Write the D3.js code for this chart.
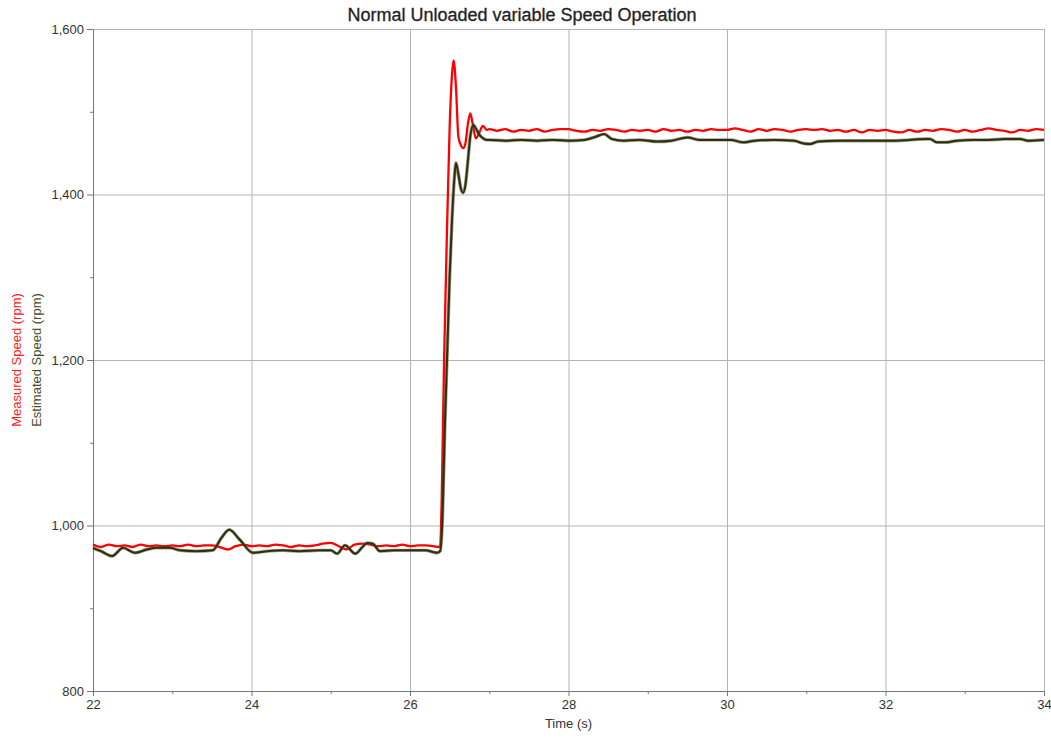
<!DOCTYPE html>
<html>
<head>
<meta charset="utf-8">
<script src="https://cdn.jsdelivr.net/npm/d3@7.9.0/dist/d3.min.js"></script>
<style>
  body { margin: 0; background: #fff; }
  svg { display: block; font-family: "Liberation Sans", Arial, sans-serif; }
  .grid line { stroke: #b4b4b4; stroke-width: 1; }
  .grid path { display: none; }
  .axis path, .axis line { stroke: #777; }
  .axis text { fill: #333; font-size: 13px; }
</style>
</head>
<body>
<div id="chart"></div>
<script>
// Measured speed (red)
const measuredTime = [
  22.0, 22.1, 22.2, 22.3, 22.4, 22.5, 22.6, 22.7, 22.8, 22.9,
  23.0, 23.1, 23.2, 23.3, 23.4, 23.5, 23.6, 23.7, 23.8, 23.9,
  24.0, 24.1, 24.2, 24.3, 24.4, 24.5, 24.6, 24.7, 24.8, 24.9,
  25.0, 25.1, 25.2, 25.3, 25.4, 25.5, 25.6, 25.7, 25.8, 25.9,
  26.0, 26.1, 26.2, 26.3, 26.36, 26.38, 26.40, 26.43, 26.47, 26.50,
  26.53, 26.55, 26.58, 26.61, 26.64, 26.67, 26.70, 26.73, 26.76, 26.79,
  26.83, 26.88, 26.92, 26.97, 27.0,
  27.1, 27.2, 27.3, 27.4, 27.5, 27.6, 27.7, 27.8, 27.9,
  28.0, 28.1, 28.2, 28.3, 28.4, 28.5, 28.6, 28.7, 28.8, 28.9,
  29.0, 29.1, 29.2, 29.3, 29.4, 29.5, 29.6, 29.7, 29.8, 29.9,
  30.0, 30.1, 30.2, 30.3, 30.4, 30.5, 30.6, 30.7, 30.8, 30.9,
  31.0, 31.1, 31.2, 31.3, 31.4, 31.5, 31.6, 31.7, 31.8, 31.9,
  32.0, 32.1, 32.2, 32.3, 32.4, 32.5, 32.6, 32.7, 32.8, 32.9,
  33.0, 33.1, 33.2, 33.3, 33.4, 33.5, 33.6, 33.7, 33.8, 33.9, 34.0
];
const measuredSpeed = [
  977, 974, 977, 975, 976, 974, 977, 975, 976, 975,
  976, 975, 977, 975, 976, 976, 974, 971, 975, 977,
  975, 976, 975, 977, 976, 974, 976, 975, 976, 978,
  979, 975, 971, 977, 978, 977, 975, 976, 975, 977,
  975, 976, 976, 975, 974, 975, 1031, 1200, 1369, 1480,
  1545, 1562, 1530, 1470, 1460, 1456, 1462, 1485, 1498, 1486,
  1468, 1476, 1483, 1478, 1479,
  1477, 1479, 1476, 1478, 1477, 1479, 1476, 1478, 1479,
  1479, 1477, 1476, 1478, 1477, 1479, 1478, 1476, 1478, 1477,
  1478, 1476, 1479, 1477, 1478, 1476, 1478, 1477, 1479, 1478,
  1478, 1480, 1478, 1476, 1479, 1477, 1479, 1478, 1476, 1478,
  1479, 1478, 1479, 1477, 1478, 1476, 1478, 1475, 1478, 1477,
  1478, 1476, 1475, 1478, 1476, 1478, 1477, 1479, 1478, 1476,
  1478, 1476, 1478, 1480, 1478, 1477, 1475, 1478, 1477, 1479, 1478
];

// Estimated speed (dark olive)
const estimatedTime = [
  22.0, 22.1, 22.24, 22.38, 22.53, 22.68, 22.8, 22.97, 23.1, 23.3,
  23.51, 23.62, 23.72, 23.85, 24.02, 24.2, 24.4, 24.6, 24.86, 25.0,
  25.08, 25.18, 25.31, 25.4, 25.46, 25.53, 25.62, 25.8, 26.0, 26.2,
  26.29, 26.34, 26.38, 26.41, 26.44, 26.47, 26.5, 26.53, 26.56, 26.58,
  26.61, 26.64, 26.67, 26.7, 26.73, 26.76, 26.8, 26.83, 26.87, 26.92,
  26.97, 27.0, 27.2, 27.4, 27.6, 27.8, 28.0, 28.2, 28.35, 28.45,
  28.55, 28.7, 28.9, 29.12, 29.3, 29.5, 29.65, 29.9, 30.05, 30.2,
  30.35, 30.6, 30.85, 30.95, 31.05, 31.15, 31.4, 31.7, 31.9, 32.1,
  32.3, 32.5, 32.56, 32.65, 32.75, 32.9, 33.1, 33.3, 33.5, 33.7,
  33.8, 34.0
];
const estimatedSpeed = [
  973, 969, 963, 973, 967, 971, 973, 973, 970, 969,
  970, 985, 995, 983, 967, 969, 970, 969, 970, 970,
  966, 976, 966, 974, 979, 978, 969, 970, 970, 970,
  968, 967, 969, 1010, 1120, 1210, 1300, 1369, 1420, 1438,
  1425, 1408, 1402, 1412, 1440, 1470, 1484, 1480, 1473, 1468,
  1466, 1466, 1465, 1466, 1465, 1466, 1465, 1466, 1470, 1473,
  1467, 1465, 1466, 1464, 1465, 1469, 1466, 1466, 1466, 1463,
  1465, 1466, 1465, 1462, 1461, 1464, 1465, 1465, 1465, 1465,
  1466, 1467, 1467, 1463, 1463, 1465, 1466, 1466, 1467, 1467,
  1465, 1466
];

const xTicks = [22, 24, 26, 28, 30, 32, 34];
const yTicks = [800, 1000, 1200, 1400, 1600];

const width = 1051;
const height = 740;
const margin = { top: 29, right: 7, bottom: 49, left: 93 };

const x = d3.scaleLinear().domain([22, 34])
  .range([margin.left, width - margin.right]);
const y = d3.scaleLinear().domain([800, 1600])
  .range([height - margin.bottom, margin.top]);

const svg = d3.select("#chart").append("svg")
  .attr("width", width).attr("height", height);

// gridlines
svg.append("g").attr("class", "grid")
  .attr("transform", `translate(0,${height - margin.bottom})`)
  .call(d3.axisBottom(x).tickValues(xTicks).tickFormat("")
    .tickSize(-(height - margin.top - margin.bottom)));
svg.append("g").attr("class", "grid")
  .attr("transform", `translate(${margin.left},0)`)
  .call(d3.axisLeft(y).tickValues(yTicks).tickFormat("")
    .tickSize(-(width - margin.left - margin.right)));

// minor ticks
svg.append("g").attr("class", "axis")
  .attr("transform", `translate(0,${height - margin.bottom})`)
  .call(d3.axisBottom(x).tickValues([23, 25, 27, 29, 31, 33]).tickFormat("").tickSize(3))
  .select(".domain").remove();
svg.append("g").attr("class", "axis")
  .attr("transform", `translate(${margin.left},0)`)
  .call(d3.axisLeft(y).tickValues([900, 1100, 1300, 1500]).tickFormat("").tickSize(3))
  .select(".domain").remove();

// main axes
svg.append("g").attr("class", "axis")
  .attr("transform", `translate(0,${height - margin.bottom})`)
  .call(d3.axisBottom(x).tickValues(xTicks).tickSizeOuter(0).tickSize(5).tickPadding(4));
svg.append("g").attr("class", "axis")
  .attr("transform", `translate(${margin.left},0)`)
  .call(d3.axisLeft(y).tickValues(yTicks).tickSizeOuter(0).tickSize(6)
    .tickFormat(d3.format(",")).tickPadding(3));

// lines
const line = d3.line().curve(d3.curveMonotoneX);
const measured = measuredTime.map((t, i) => [x(t), y(measuredSpeed[i])]);
const estimated = estimatedTime.map((t, i) => [x(t), y(estimatedSpeed[i])]);

svg.append("path").attr("d", line(measured))
  .attr("fill", "none").attr("stroke", "#ff0000").attr("stroke-width", 2.3)
  .attr("stroke-linejoin", "round");
svg.append("path").attr("d", line(estimated))
  .attr("fill", "none").attr("stroke", "#5a5a30").attr("stroke-width", 3.4)
  .attr("stroke-linejoin", "round").attr("stroke-opacity", 0.6);
svg.append("path").attr("d", line(estimated))
  .attr("fill", "none").attr("stroke", "#2e2e12").attr("stroke-width", 2)
  .attr("stroke-linejoin", "round");

// titles
svg.append("text")
  .attr("x", 522).attr("y", 21)
  .attr("text-anchor", "middle")
  .attr("font-size", 18).attr("fill", "#222")
  .attr("stroke", "#222").attr("stroke-width", 0.3)
  .text("Normal Unloaded variable Speed Operation");

svg.append("text")
  .attr("x", (margin.left + width - margin.right) / 2).attr("y", 728)
  .attr("text-anchor", "middle").attr("font-size", 13).attr("fill", "#333")
  .text("Time (s)");

const midY = (margin.top + height - margin.bottom) / 2;
svg.append("text")
  .attr("transform", `translate(21,${midY}) rotate(-90)`)
  .attr("text-anchor", "middle").attr("font-size", 13).attr("fill", "#ff2020")
  .text("Measured Speed (rpm)");
svg.append("text")
  .attr("transform", `translate(41,${midY}) rotate(-90)`)
  .attr("text-anchor", "middle").attr("font-size", 13).attr("fill", "#4a4a28")
  .text("Estimated Speed (rpm)");
</script>
</body>
</html>
